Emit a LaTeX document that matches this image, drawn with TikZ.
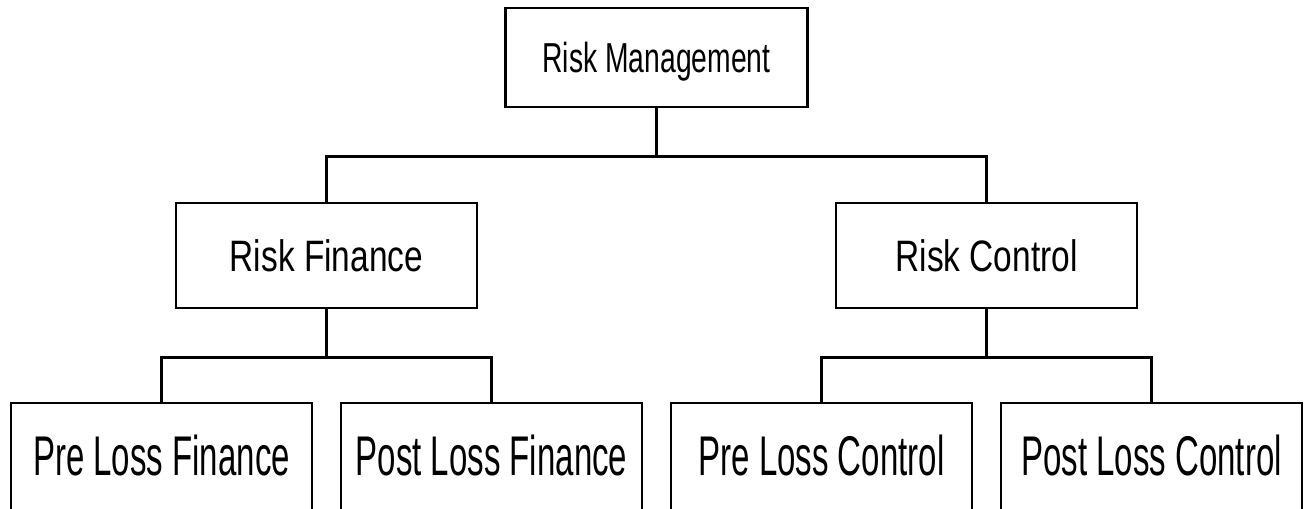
\documentclass[tikz,border=0pt]{standalone}
\usepackage{fontspec}
\usepackage{tikz}
\usetikzlibrary{positioning}
\newfontfamily\topfont[FakeStretch=0.675]{Liberation Sans}
\newfontfamily\midfont[FakeStretch=0.76]{Liberation Sans}
\newfontfamily\leaffont[FakeStretch=0.59]{Liberation Sans}
\tikzset
{
    rootbox/.style = {rectangle, draw=black, line width=2.1pt, align=center, minimum width=7.55cm, minimum height=2.475cm, font=\topfont\fontsize{29.8}{34}\selectfont, text height=21.3pt, text depth=0pt},
    midbox/.style  = {rectangle, draw=black, line width=2.1pt, align=center, minimum width=7.525cm, minimum height=2.625cm, font=\midfont\fontsize{31.3}{36}\selectfont, text height=22.4pt, text depth=0pt},
    leafbox/.style = {rectangle, draw=black, line width=2.1pt, align=center, minimum width=7.525cm, minimum height=2.75cm, font=\leaffont\fontsize{39.8}{46}\selectfont, text height=24.2pt, text depth=0pt}
}

\begin{document}
\begin{tikzpicture}
	[level/.style={sibling distance = 16.5cm/#1},
	 level 1/.style={level distance = 4.95cm},
	 level 2/.style={level distance = 5.0625cm},
	 edge from parent/.style={draw=black, line width=1.9pt},
	 edge from parent path={(\tikzparentnode.south) -- ++(0,-1.2) -| (\tikzchildnode.north)}]
	\useasboundingbox (-16.4125,1.4375) rectangle (16.1875,-11.2625);
	\clip (-16.4125,1.4375) rectangle (16.1875,-11.2625);
	\node[rootbox] (mgmt) {Risk Management}
	child{
		node[midbox] (finance) {Risk Finance}
		child{
			node[leafbox] (prefin) {Pre Loss Finance}
		}
		child{
			node[leafbox] (postfin) {Post Loss Finance}
		}
	}
	child{
		node[midbox] (control) {Risk Control}
		child{
			node[leafbox] (prectl) {Pre Loss Control}
		}
		child{
			node[leafbox] (postctl) {Post Loss Control}
		}
	};
\end{tikzpicture}
\end{document}
